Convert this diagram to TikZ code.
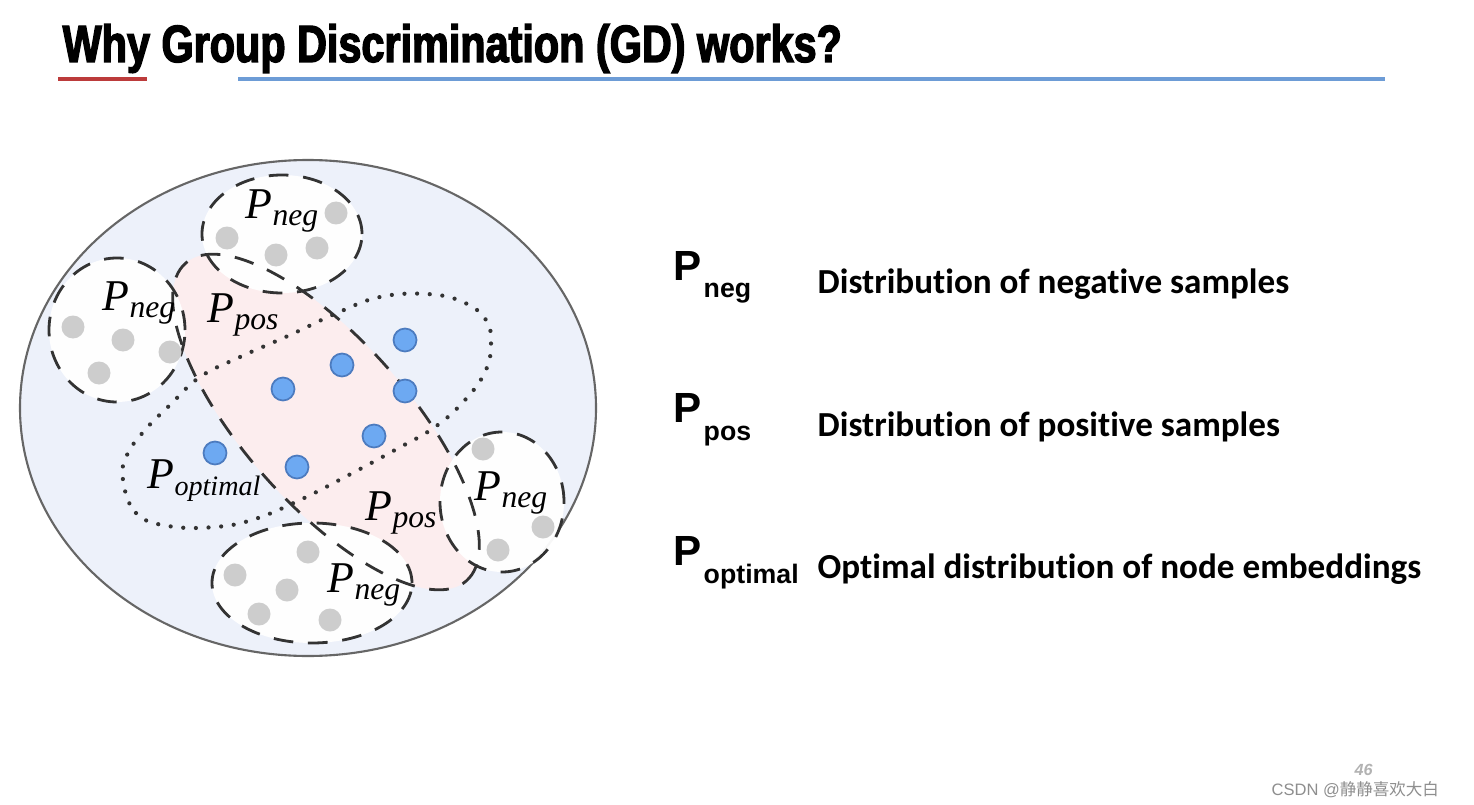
\documentclass[tikz,border=0pt]{standalone}
\usepackage{fontspec}
\usepackage{xcolor}
\setmainfont{Liberation Serif}
\newfontfamily\titlefont[FakeStretch=0.79,BoldFeatures={FakeBold=2.6}]{Liberation Sans}
\newfontfamily\keyfont{Liberation Sans}
\newfontfamily\descfont[Ligatures=NoCommon]{Carlito}
\newfontfamily\cjkfont{Noto Sans CJK SC}
\usetikzlibrary{positioning}
\definecolor{titlered}{HTML}{BC3B3B}
\definecolor{titleblue}{HTML}{6D9CD6}
\definecolor{universe}{HTML}{EDF1FA}
\definecolor{rimgray}{HTML}{666666}
\definecolor{posfill}{HTML}{FCEDEE}
\definecolor{setink}{HTML}{333333}
\definecolor{dotgray}{HTML}{CDCDCD}
\definecolor{dotblue}{HTML}{6DA9F2}
\definecolor{dotrim}{HTML}{4C7BBF}
\definecolor{markgray}{HTML}{8E8E8E}
\newcommand{\distname}[2][9]{\textit{P}\raisebox{-2pt}{\fontsize{#1}{#1}\selectfont\itshape #2}}
\tikzset{
  setline/.style={draw=setink,line width=0.8pt,dash pattern=on 5.6pt off 4.2pt},
  negset/.style={fill=white,fill opacity=0.95},
  optset/.style={draw=setink,line width=1.2pt,line cap=round,dash pattern=on 0pt off 3.6pt},
  graydot/.style={fill=dotgray},
  bluedot/.style={fill=dotblue,draw=dotrim,line width=0.5pt},
  setlabel/.style={anchor=base west,inner sep=0pt,font=\fontsize{12.5}{13}\selectfont},
  keyname/.style={anchor=base west,inner sep=0pt,font=\keyfont\bfseries\fontsize{12}{12}\selectfont},
  keysub/.style={anchor=base west,inner sep=0pt,font=\keyfont\bfseries\fontsize{7.6}{8}\selectfont},
  keytext/.style={anchor=base west,inner sep=0pt,font=\descfont\bfseries\fontsize{10}{12}\selectfont}
}
\begin{document}
\begin{tikzpicture}[x=0.1mm,y=-0.1mm]
  \useasboundingbox[fill=white] (0,0) rectangle (1474,805);
  % heading
  \node[anchor=base west,inner sep=0pt,font=\titlefont\bfseries\fontsize{14.9}{15}\selectfont] (title) at (62,62) {Why Group Discrimination (GD) works?};
  \draw[titlered,line width=1.4pt] (58,79) -- (147,79);
  \draw[titleblue,line width=1.4pt] (238,79) -- (1385,79);
  % the whole embedding space
  \draw[fill=universe,draw=rimgray,line width=0.6pt] (308,408) circle [x radius=28.8mm,y radius=24.8mm];
  \fill[posfill] (326,422) circle [x radius=21.2mm,y radius=8.2mm,rotate=-48.5];
  \fill[negset] (282,234) circle [x radius=8mm,y radius=5.9mm];
  \fill[negset] (117,330) circle [x radius=6.8mm,y radius=7.2mm];
  \fill[negset] (502,502) circle [x radius=6.2mm,y radius=7mm];
  \fill[negset] (312,583) circle [x radius=10mm,y radius=6mm];
  \draw[setline] (326,422) circle [x radius=21.2mm,y radius=8.2mm,rotate=-48.5];
  \draw[setline] (282,234) circle [x radius=8mm,y radius=5.9mm];
  \draw[setline] (117,330) circle [x radius=6.8mm,y radius=7.2mm];
  \draw[setline] (502,502) circle [x radius=6.2mm,y radius=7mm];
  \draw[setline] (312,583) circle [x radius=10mm,y radius=6mm];
  \draw[optset] plot[smooth cycle,tension=0.7] coordinates {(123,480) (136,513) (168,526) (215,527) (255,519) (300,500) (345,477) (395,450) (435,427) (465,400) (485,372) (491,345) (486,320) (463,302) (427,294) (380,297) (337,313) (290,335) (240,357) (200,377) (170,405) (145,430) (127,455)};
  % samples
  \foreach \p in {(227,238),(276,255),(317,248),(336,213),(73,327),(123,340),(170,352),(99,373),(483,449),(543,527),(498,550),(235,575),(287,590),(308,552),(259,614),(330,620)}
    \fill[graydot] \p circle [radius=1.15mm];
  \foreach \p in {(405,340),(342,365),(283,389),(405,391),(374,436),(215,453),(297,467)}
    \draw[bluedot] \p circle [radius=1.15mm];
  % set labels
  \node[setlabel] (negtop) at (245,218) {\distname{neg}};
  \node[setlabel] (negleft) at (102,310) {\distname{neg}};
  \node[setlabel] (negright) at (474,500) {\distname{neg}};
  \node[setlabel] (negbottom) at (327,592) {\distname{neg}};
  \node[setlabel] (postop) at (207,322) {\distname{pos}};
  \node[setlabel] (posbottom) at (365,520) {\distname{pos}};
  \node[setlabel] (optlabel) at (147,488) {\distname[8]{optimal}};
  % legend
  \node[keyname] (negkey) at (673,280) {P};
  \node[keysub] (negsub) at (703,297) {neg};
  \node[keytext] (negtext) at (817,293) {Distribution of negative samples};
  \node[keyname] (poskey) at (673,422) {P};
  \node[keysub] (possub) at (703,440) {pos};
  \node[keytext] (postext) at (817,436) {Distribution of positive samples};
  \node[keyname] (optkey) at (673,565) {P};
  \node[keysub] (optsub) at (703,583) {optimal};
  \node[keytext] (opttext) at (817,578) {Optimal distribution of node embeddings};
  % page mark
  \node[anchor=base west,inner sep=0pt,font=\keyfont\bfseries\itshape\fontsize{4.6}{5}\selectfont,text=black!30] (pageno) at (1354,775) {46};
  \node[anchor=base west,inner sep=0pt,font=\keyfont\fontsize{4.7}{5}\selectfont,text=markgray] (mark) at (1271,795) {CSDN @{\cjkfont 静静喜欢大白}};
\end{tikzpicture}
\end{document}
